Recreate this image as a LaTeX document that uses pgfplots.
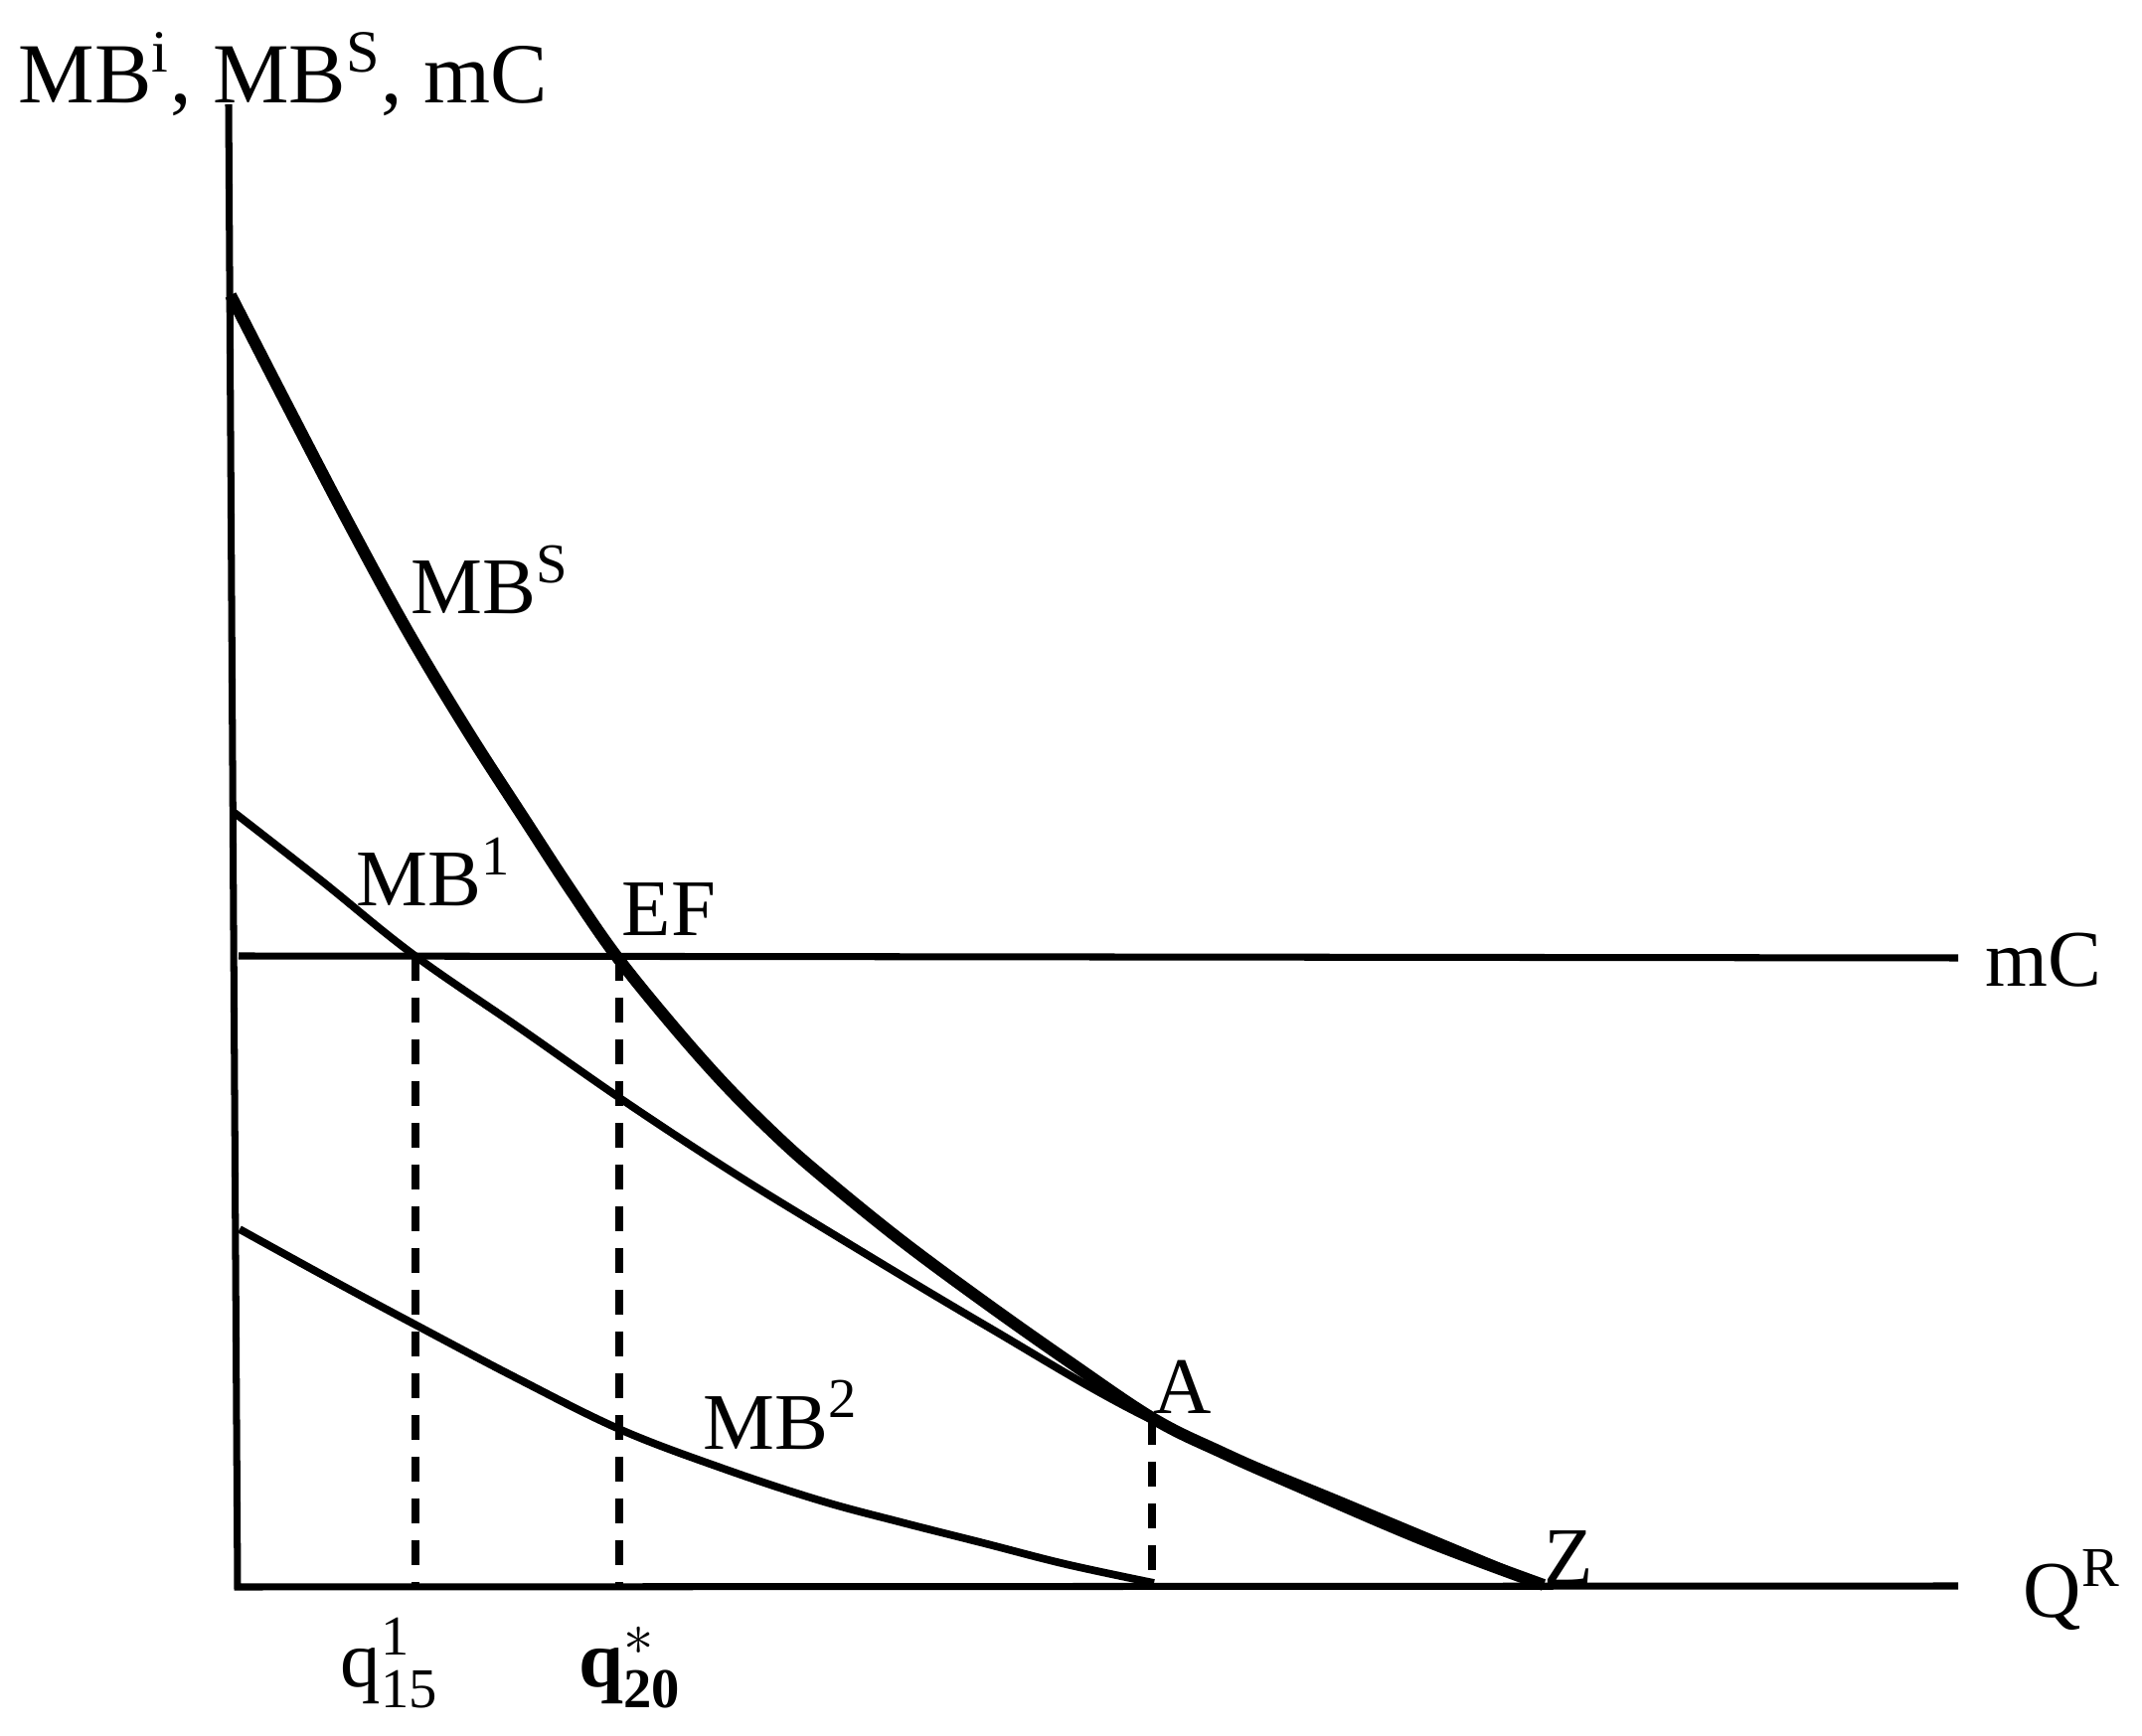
\documentclass[border=0pt]{standalone}
\usepackage{fontspec}
\setmainfont{Liberation Serif}
\usepackage{pgfplots}
\pgfplotsset{compat=1.18}

\begin{document}
\begin{tikzpicture}[lbl/.style={anchor=base west, inner sep=0pt, font=\fontsize{23}{26}\selectfont}]
\begin{axis}[
  width=215.5mm, height=174.7mm, scale only axis,
  xmin=0, xmax=2155, ymin=0, ymax=1747, y dir=reverse,
  axis lines=none, clip=false,
]
% frame for the bounding box
\addplot[draw=none] coordinates {(0,0) (2155,1747)};
% axes
\addplot[line width=2pt] coordinates {(230,105) (239,1597) (1970,1596)};
% mC
\addplot[line width=2pt] coordinates {(240,962) (1970,964)};
% MB^S
\addplot[line width=3.4pt, smooth, tension=0.6] coordinates {
  (232,297) (290,410) (350,525) (410,635) (470,735) (530,828) (575,897)
  (620,962) (675,1030) (728,1090) (780,1142) (825,1182) (905,1247)
  (990,1310) (1075,1370) (1161,1428) (1230,1462) (1300,1493) (1433,1550)
  (1553,1595)};
% MB^1
\addplot[line width=2.2pt, smooth, tension=0.6] coordinates {
  (236,818) (323,886) (415,960) (522,1034) (625,1106) (728,1174) (825,1234)
  (990,1333) (1161,1430) (1361,1515) (1553,1595)};
% MB^2
\addplot[line width=2.2pt, smooth, tension=0.6] coordinates {
  (241,1237) (330,1286) (412,1330) (522,1388) (625,1439) (728,1478)
  (825,1510) (907,1532) (990,1553) (1072,1574) (1161,1593)};
% dashed drop lines
\addplot[line width=2pt, dash pattern=on 2.5mm off 1.7mm] coordinates {(418,962) (418,1594)};
\addplot[line width=2pt, dash pattern=on 2.5mm off 1.7mm] coordinates {(623,962) (623,1594)};
\addplot[line width=2pt, dash pattern=on 2.5mm off 1.7mm] coordinates {(1159,1429) (1159,1594)};
% labels
\node[lbl, font=\fontsize{24.5}{27}\selectfont] at (axis cs:18,104)
  {MB\textsuperscript{i}, MB\textsuperscript{S}, mC};
\node[lbl] at (axis cs:413,618) {MB\textsuperscript{S}};
\node[lbl] at (axis cs:358,912) {MB\textsuperscript{1}};
\node[lbl] at (axis cs:625,942) {EF};
\node[lbl] at (axis cs:1997,993) {mC};
\node[lbl] at (axis cs:1160,1423) {A};
\node[lbl] at (axis cs:707,1458) {MB\textsuperscript{2}};
\node[lbl] at (axis cs:1553,1594) {Z};
\node[lbl] at (axis cs:2035,1628) {Q\textsuperscript{R}};
\node[lbl] at (axis cs:342,1697) {$\mathrm{q}^{\mathrm{1}}_{\mathrm{15}}$};
\node[lbl] at (axis cs:582,1697) {$\mathbf{q}^{*}_{\mathbf{20}}$};
\end{axis}
\end{tikzpicture}
\end{document}
